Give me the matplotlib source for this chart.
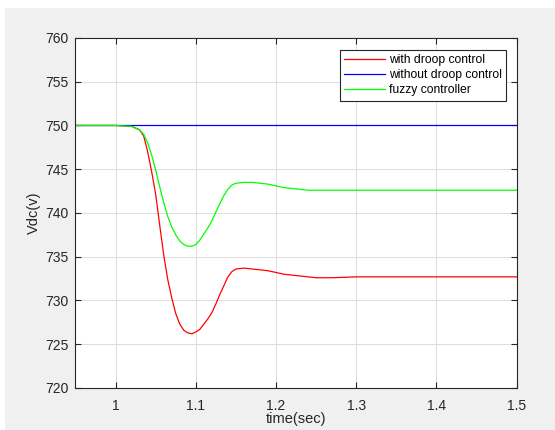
import matplotlib
matplotlib.use('agg')
import matplotlib.pyplot as plt
from matplotlib.patches import Rectangle

plt.rcParams['font.family'] = ['Liberation Sans', 'DejaVu Sans']

# time (sec) and Vdc (v)
t_red = [0.95, 1.00, 1.02, 1.03, 1.035, 1.04, 1.045, 1.05, 1.055, 1.06, 1.065, 1.07, 1.075, 1.08,
         1.085, 1.09, 1.095, 1.10, 1.105, 1.11, 1.115, 1.12, 1.125, 1.13, 1.135, 1.14, 1.145, 1.15,
         1.16, 1.17, 1.18, 1.19, 1.20, 1.21, 1.22, 1.23, 1.24, 1.25, 1.27, 1.30, 1.50]
v_red = [750.0, 750.0, 749.9, 749.5, 748.8, 747.0, 744.7, 742.1, 738.6, 735.2, 732.4, 730.3, 728.5, 727.3,
         726.6, 726.3, 726.2, 726.4, 726.7, 727.3, 727.9, 728.6, 729.6, 730.7, 731.7, 732.7, 733.3, 733.6,
         733.7, 733.6, 733.5, 733.4, 733.2, 733.0, 732.9, 732.8, 732.7, 732.6, 732.6, 732.7, 732.7]

t_blue = [0.95, 1.5]
v_blue = [750.0, 750.0]

t_green = [0.95, 1.00, 1.02, 1.03, 1.035, 1.04, 1.045, 1.05, 1.055, 1.06, 1.065, 1.07, 1.075, 1.08,
           1.085, 1.09, 1.095, 1.10, 1.105, 1.11, 1.115, 1.12, 1.125, 1.13, 1.135, 1.14, 1.145, 1.15,
           1.16, 1.17, 1.18, 1.19, 1.20, 1.21, 1.22, 1.23, 1.24, 1.50]
v_green = [750.0, 750.0, 749.9, 749.5, 749.0, 748.0, 746.6, 744.9, 743.0, 741.2, 739.6, 738.4, 737.5, 736.8,
           736.4, 736.2, 736.2, 736.4, 736.9, 737.6, 738.3, 739.1, 740.1, 741.1, 742.0, 742.7, 743.2, 743.4,
           743.5, 743.5, 743.4, 743.3, 743.1, 742.9, 742.8, 742.7, 742.6, 742.6]

labels = ['with droop control', 'without droop control', 'fuzzy controller']
xticks = [1, 1.1, 1.2, 1.3, 1.4, 1.5]
xticklabels = ['1', '1.1', '1.2', '1.3', '1.4', '1.5']
yticks = [720, 725, 730, 735, 740, 745, 750, 755, 760]

fig = plt.figure(figsize=(5.55, 4.3), dpi=100)
fig.patch.set_facecolor('white')
# gray matlab figure background (screenshot has a thin white border top/left)
fig.patches.append(Rectangle((5/555, 0), 1, 1 - 8/430, transform=fig.transFigure,
                             facecolor='#f0f0f0', edgecolor='none', zorder=-10))
ax = fig.add_axes([0.136, 0.0977, 0.795, 0.814])

ax.plot(t_red, v_red, color='#ff0000', lw=0.9, label=labels[0])
ax.plot(t_blue, v_blue, color='#0000ff', lw=0.9, label=labels[1])
ax.plot(t_green, v_green, color='#00ff00', lw=0.9, label=labels[2])

ax.set_xlim(0.95, 1.5)
ax.set_ylim(720, 760)
ax.set_xticks(xticks)
ax.set_xticklabels(xticklabels)
ax.set_yticks(yticks)
ax.grid(True, color='#dcdcdc', lw=0.7)
ax.set_axisbelow(True)
ax.tick_params(direction='in', top=True, right=True, labelsize=10, colors='#262626', length=4)
ax.tick_params(axis='x', pad=8)
ax.tick_params(axis='y', pad=5)
for s in ax.spines.values():
    s.set_color('#262626')
    s.set_linewidth(0.8)

ax.set_xlabel('time(sec)', fontsize=10.5, color='#262626', labelpad=-1)
ax.set_ylabel('Vdc(v)', fontsize=10.5, color='#262626', labelpad=3)

leg = ax.legend(loc='upper right', fontsize=8.75, fancybox=False, framealpha=1,
                edgecolor='#262626', handlelength=3.3, handletextpad=0.35,
                borderpad=0.35, labelspacing=0.25, borderaxespad=0,
                bbox_to_anchor=(0.9755, 0.9657))
leg.get_frame().set_linewidth(0.8)

plt.savefig('out.png', dpi=100)
